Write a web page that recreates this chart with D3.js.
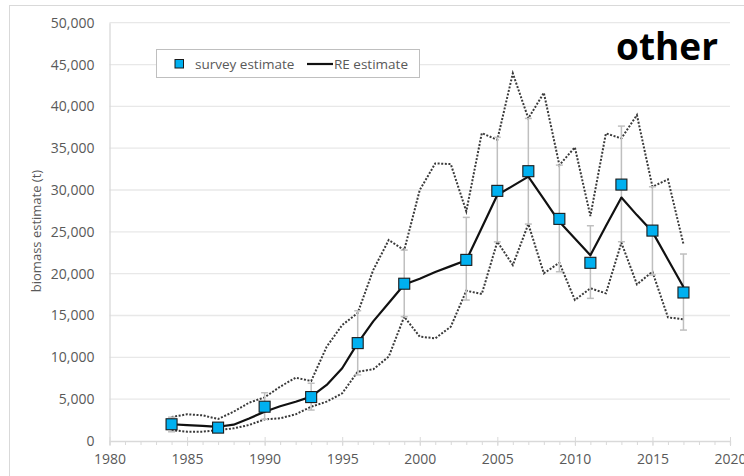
<!DOCTYPE html>
<html><head><meta charset="utf-8">
<script src="https://cdn.jsdelivr.net/npm/d3@7"></script>
<style>
html,body{margin:0;padding:0;background:#fff;}
svg{display:block;font-family:"Open Sans",sans-serif;}
</style></head>
<body><svg id="c" width="744" height="476"></svg>
<script>
// ---- data ----
const surveyYears = [1984,1987,1990,1993,1996,1999,2003,2005,2007,2009,2011,2013,2015,2017];
const surveyValues = [2000,1600,4100,5250,11700,18800,21650,29900,32250,26550,21300,30650,25150,17750];
const surveyUpper = [2850,2050,5770,6900,15570,22820,26730,36300,38560,32980,25730,37640,30390,22350];
const surveyLower = [1100,1150,2600,3700,7900,14860,16850,23800,25930,20230,17050,23820,19840,13260];

const reYears = d3.range(1984, 2018);
const reValues = [2000,1900,1800,1700,1950,2700,3500,4150,4700,5300,6700,8700,11700,14300,16500,18700,
  19400,20200,20900,21600,25500,29400,30500,31600,28900,26200,24200,22200,25700,29100,27000,25000,21700,18400];
const reUpper = [2870,3190,3070,2630,3500,4580,5220,6490,7570,7170,11270,13860,15300,20430,24020,22820,
  30000,33180,33100,27450,36800,36000,43940,38560,41620,32980,35100,26900,36770,36170,38960,30390,31270,23540];
const reLower = [1310,1110,1110,1310,1510,1910,2590,2710,3190,4100,4700,5700,8290,8570,10080,14860,
  12470,12270,13660,17960,17570,23820,21030,25930,20040,21310,16850,18250,17650,23700,18720,20230,14780,14540];

const yTicks = d3.range(0, 50001, 5000);
const xTicks = d3.range(1980, 2021, 5);
const xMinor = d3.range(1980, 2021, 1);
const yLabel = "biomass estimate (t)";
const legendLabels = ["survey estimate", "RE estimate"];
const panelTitle = "other";

// ---- chart ----
const svg = d3.select("#c");
const x = d3.scaleLinear([1980, 2020], [109.5, 730]);
const y = d3.scaleLinear([0, 50000], [441, 22.7]);

// outer border
svg.append("rect").attr("x", 9.5).attr("y", 5.5).attr("width", 760).attr("height", 500)
  .attr("fill", "none").attr("stroke", "#d9d9d9").attr("stroke-width", 1);

// gridlines
svg.append("g").selectAll("line").data(yTicks.filter(d => d > 0)).join("line")
  .attr("x1", x(1980)).attr("x2", x(2020)).attr("y1", d => y(d)).attr("y2", d => y(d))
  .attr("stroke", "#e8e8e8").attr("stroke-width", 1.3);

// y axis
const yAxis = svg.append("g").attr("transform", `translate(${x(1980)},0)`)
  .call(d3.axisLeft(y).tickValues(yTicks).tickSize(0).tickPadding(15).tickFormat(d3.format(",")));
yAxis.select(".domain").attr("stroke", "#d9d9d9").attr("stroke-width", 1.3);
yAxis.selectAll("text").attr("fill", "#595959").attr("font-size", 14).attr("font-family", "Open Sans");

// x axis minor
const xMinorAxis = svg.append("g").attr("transform", `translate(0,${y(0)})`)
  .call(d3.axisBottom(x).tickValues(xMinor).tickSize(4).tickFormat(""));
xMinorAxis.select(".domain").attr("stroke", "#d9d9d9").attr("stroke-width", 1.3);
xMinorAxis.selectAll(".tick line").attr("stroke", "#d9d9d9");
// x axis major
const xAxis = svg.append("g").attr("transform", `translate(0,${y(0) - 4})`)
  .call(d3.axisBottom(x).tickValues(xTicks).tickSize(9).tickPadding(8).tickFormat(d3.format("d")));
xAxis.select(".domain").remove();
xAxis.selectAll(".tick line").attr("stroke", "#d9d9d9");
xAxis.selectAll("text").attr("fill", "#595959").attr("font-size", 14).attr("font-family", "Open Sans");

// y label
svg.append("text").attr("transform", `translate(41,${231}) rotate(-90)`)
  .attr("text-anchor", "middle").attr("fill", "#595959").attr("font-size", 13)
  .text(yLabel);

// CI dotted lines
const line = d3.line().x(d => x(d[0])).y(d => y(d[1]));
[reUpper, reLower].forEach(arr => {
  svg.append("path").datum(reYears.map((yr, i) => [yr, arr[i]]))
    .attr("d", line).attr("fill", "none").attr("stroke", "#3a3a3a")
    .attr("stroke-width", 2).attr("stroke-dasharray", "2,1.6");
});

// error bars
const eb = svg.append("g").attr("stroke", "#bfbfbf").attr("stroke-width", 1.5);
surveyYears.forEach((yr, i) => {
  const cx = x(yr);
  eb.append("line").attr("x1", cx).attr("x2", cx).attr("y1", y(surveyUpper[i])).attr("y2", y(surveyLower[i]));
  eb.append("line").attr("x1", cx - 3.5).attr("x2", cx + 3.5).attr("y1", y(surveyUpper[i])).attr("y2", y(surveyUpper[i]));
  eb.append("line").attr("x1", cx - 3.5).attr("x2", cx + 3.5).attr("y1", y(surveyLower[i])).attr("y2", y(surveyLower[i]));
});

// RE solid line
svg.append("path").datum(reYears.map((yr, i) => [yr, reValues[i]]))
  .attr("d", line).attr("fill", "none").attr("stroke", "#111")
  .attr("stroke-width", 2.2).attr("stroke-linejoin", "round");

// survey markers
const s = 11;
svg.append("g").selectAll("rect").data(surveyYears.map((yr, i) => [yr, surveyValues[i]])).join("rect")
  .attr("x", d => x(d[0]) - s / 2).attr("y", d => y(d[1]) - s / 2)
  .attr("width", s).attr("height", s)
  .attr("fill", "#00b0f0").attr("stroke", "#1a1a1a").attr("stroke-width", 1.1);

// legend
const lg = svg.append("g");
lg.append("rect").attr("x", 156.5).attr("y", 49.5).attr("width", 263).attr("height", 28)
  .attr("fill", "#fff").attr("stroke", "#bfbfbf").attr("stroke-width", 1);
lg.append("rect").attr("x", 175).attr("y", 59.5).attr("width", 8.5).attr("height", 8.5)
  .attr("fill", "#00b0f0").attr("stroke", "#1a1a1a").attr("stroke-width", 1);
lg.append("text").attr("x", 195).attr("y", 68.5).attr("fill", "#595959").attr("font-size", 13.5)
  .text(legendLabels[0]);
lg.append("line").attr("x1", 307).attr("x2", 333).attr("y1", 64).attr("y2", 64)
  .attr("stroke", "#111").attr("stroke-width", 2.2);
lg.append("text").attr("x", 334).attr("y", 68.5).attr("fill", "#595959").attr("font-size", 13.5)
  .text(legendLabels[1]);

// panel title
svg.append("text").attr("x", 616).attr("y", 60).attr("font-weight", "bold").attr("font-size", 37)
  .attr("fill", "#000").text(panelTitle);
</script></body></html>
